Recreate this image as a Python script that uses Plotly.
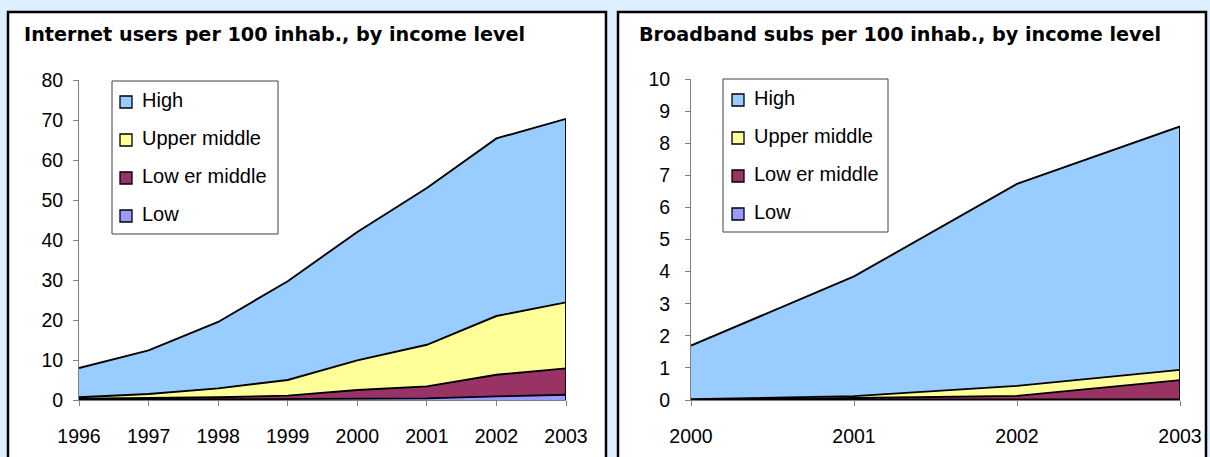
import plotly.graph_objects as go

W, H = 1210, 457

# ---------------- data ----------------
series_names = ["High", "Upper middle", "Low er middle", "Low"]
series_colors = ["#99CCFF", "#FFFF99", "#993366", "#9999FF"]

years_internet = [1996, 1997, 1998, 1999, 2000, 2001, 2002, 2003]
internet_low = [0.05, 0.1, 0.15, 0.2, 0.3, 0.4, 0.9, 1.3]
internet_lower_middle = [0.25, 0.4, 0.55, 0.9, 2.2, 3.0, 5.4, 6.6]
internet_upper_middle = [0.4, 1.0, 2.2, 3.9, 7.4, 10.4, 14.7, 16.5]
internet_high = [7.3, 10.9, 16.6, 24.7, 32.1, 39.2, 44.4, 45.9]

years_broadband = [2000, 2001, 2002, 2003]
broadband_low = [0.005, 0.01, 0.01, 0.02]
broadband_lower_middle = [0.01, 0.05, 0.12, 0.6]
broadband_upper_middle = [0.01, 0.06, 0.31, 0.32]
broadband_high = [1.67, 3.73, 6.29, 7.58]

title_internet = "Internet users per 100 inhab., by income level"
title_broadband = "Broadband subs per 100 inhab., by income level"

internet_ticks = [0, 10, 20, 30, 40, 50, 60, 70, 80]
broadband_ticks = list(range(0, 11))

# ---------------- helpers ----------------
def px(x):
    return x / W


def py(y):
    return 1 - y / H


BG = "#DCEEFF"
AXC = "#808080"
FONT = "Liberation Sans, Arial, sans-serif"

fig = go.Figure()

def add_stack(xs, sets, xa, ya, group):
    # sets in legend order (High, Upper, Lower, Low); stack from the bottom
    for name, color, vals in reversed(list(zip(series_names, series_colors, sets))):
        fig.add_trace(go.Scatter(
            x=xs, y=vals, name=name, stackgroup=group, mode="lines",
            line=dict(color="black", width=1.9), fillcolor=color,
            xaxis=xa, yaxis=ya, showlegend=False, hoverinfo="skip",
        ))
    # right edge outline of the stacked areas
    total_last = sum(v[-1] for v in sets)
    fig.add_trace(go.Scatter(
        x=[xs[-1], xs[-1]], y=[0, total_last], mode="lines",
        line=dict(color="black", width=1.9), xaxis=xa, yaxis=ya,
        showlegend=False, hoverinfo="skip",
    ))

add_stack(years_internet,
          [internet_high, internet_upper_middle, internet_lower_middle, internet_low],
          "x", "y", "a")
add_stack(years_broadband,
          [broadband_high, broadband_upper_middle, broadband_lower_middle, broadband_low],
          "x2", "y2", "b")

axis_common = dict(
    showgrid=False, zeroline=False, showline=True, linecolor=AXC, linewidth=1,
    ticks="outside", ticklen=5, tickcolor=AXC, tickwidth=1,
    tickfont=dict(family=FONT, size=19.5, color="black"),
)

fig.update_layout(
    width=W, height=H,
    margin=dict(l=0, r=0, t=0, b=0, autoexpand=False),
    paper_bgcolor=BG, plot_bgcolor="rgba(0,0,0,0)",
    showlegend=False,
    xaxis=dict(domain=[px(79), px(566)], range=[years_internet[0], years_internet[-1]],
               tickvals=years_internet, anchor="y", ticklabelstandoff=14, **axis_common),
    yaxis=dict(domain=[py(400), py(80)], range=[0, 80], tickvals=internet_ticks,
               anchor="x", ticklabelstandoff=6, **axis_common),
    xaxis2=dict(domain=[px(691), px(1180)], range=[years_broadband[0], years_broadband[-1]],
                tickvals=years_broadband, anchor="y2", ticklabelstandoff=14, **axis_common),
    yaxis2=dict(domain=[py(400), py(79)], range=[0, 10], tickvals=broadband_ticks,
                anchor="x2", ticklabelstandoff=11, **axis_common),
)

shapes = []
annotations = []

# panels
for x0, x1 in [(8, 606), (618, 1206)]:
    shapes.append(dict(type="rect", xref="paper", yref="paper", layer="below",
                       x0=px(x0), x1=px(x1), y0=py(470), y1=py(12),
                       fillcolor="white", line=dict(color="black", width=2.5)))

# titles
for text, x in [(title_internet, 22), (title_broadband, 637)]:
    annotations.append(dict(text=text, xref="paper", yref="paper", x=px(x), y=py(35),
                            xanchor="left", yanchor="middle", showarrow=False,
                            font=dict(family="DejaVu Sans, sans-serif", size=19.2,
                                      color="black", weight="bold")))

# legends (manual, one per panel)
legend_specs = [
    dict(box=(112, 278, 81, 234), sq_x=120, txt_x=140, ys=[100, 138, 176, 214]),
    dict(box=(723, 888, 79, 232), sq_x=732, txt_x=752, ys=[98, 136, 174, 212]),
]
for spec in legend_specs:
    bx0, bx1, by0, by1 = spec["box"]
    shapes.append(dict(type="rect", xref="paper", yref="paper",
                       x0=px(bx0), x1=px(bx1), y0=py(by1), y1=py(by0),
                       fillcolor="white", line=dict(color="#404040", width=1)))
    for name, color, yc in zip(series_names, series_colors, spec["ys"]):
        shapes.append(dict(type="rect", xref="paper", yref="paper",
                           x0=px(spec["sq_x"]), x1=px(spec["sq_x"] + 12),
                           y0=py(yc + 8), y1=py(yc - 4),
                           fillcolor=color, line=dict(color="black", width=1.3)))
        annotations.append(dict(text=name, xref="paper", yref="paper",
                                x=px(spec["txt_x"]), y=py(yc), xanchor="left",
                                yanchor="middle", showarrow=False,
                                font=dict(family=FONT, size=20, color="black")))

fig.update_layout(shapes=shapes, annotations=annotations)

fig.write_html("out.html")
